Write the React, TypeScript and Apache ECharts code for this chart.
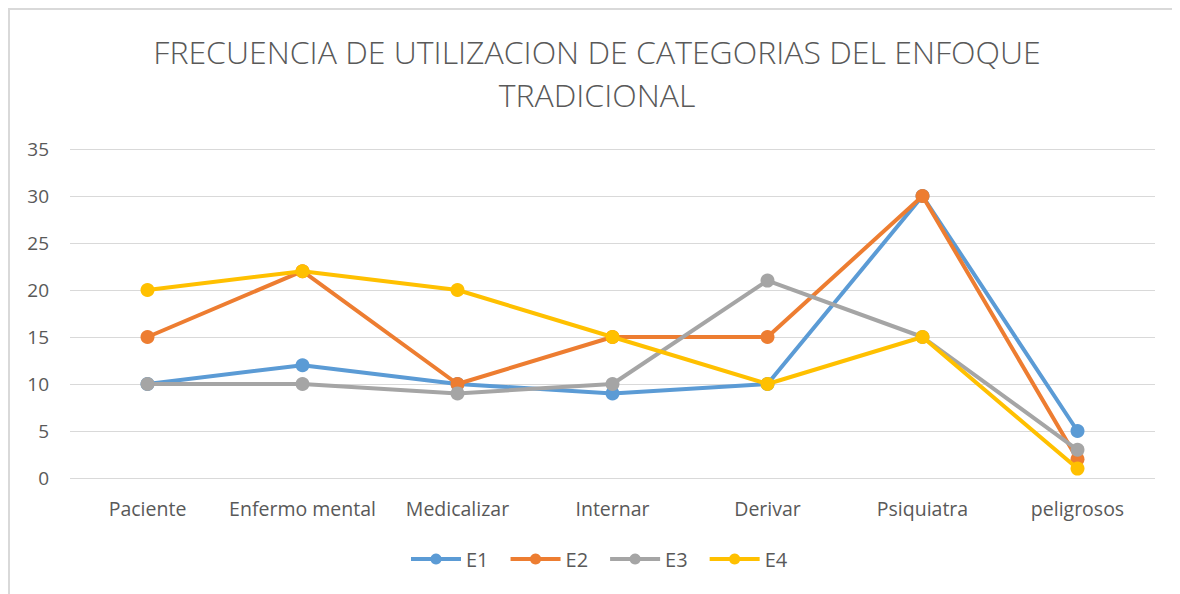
import React, { useEffect, useRef } from "react";
import * as echarts from "echarts";

const titleText = "FRECUENCIA DE UTILIZACION DE CATEGORIAS DEL ENFOQUE\nTRADICIONAL";
const categories = ["Paciente", "Enfermo mental", "Medicalizar", "Internar", "Derivar", "Psiquiatra", "peligrosos"];
const seriesNames = ["E1", "E2", "E3", "E4"];
const e1 = [10, 12, 10, 9, 10, 30, 5];
const e2 = [15, 22, 10, 15, 15, 30, 2];
const e3 = [10, 10, 9, 10, 21, 15, 3];
const e4 = [20, 22, 20, 15, 10, 15, 1];
const colors = ["#5b9bd5", "#ed7d31", "#a5a5a5", "#ffc000"];
const yTicks = { min: 0, max: 35, interval: 5 };

const FONT = "'Open Sans', 'Noto Sans', sans-serif";

export default function App() {
  const ref = useRef<HTMLDivElement>(null);
  useEffect(() => {
    if (!ref.current) return;
    const chart = echarts.init(ref.current, undefined, { renderer: "svg" });
    const data = [e1, e2, e3, e4];
    chart.setOption({
      animation: false,
      backgroundColor: "#ffffff",
      title: {
        text: titleText,
        left: 584,
        textAlign: "center",
        top: 17,
        textStyle: {
          fontFamily: FONT,
          fontSize: 32,
          fontWeight: 300,
          color: "#595959",
          lineHeight: 43,
        },
      },
      legend: {
        bottom: 20,
        left: 396,
        itemWidth: 50,
        itemHeight: 14,
        itemGap: 20,
        lineStyle: { width: 4 },
        textStyle: { fontFamily: FONT, fontSize: 20, color: "#595959" },
        data: seriesNames,
      },
      grid: { left: 62, right: 25, top: 141, bottom: 116, containLabel: false },
      xAxis: {
        type: "category",
        data: categories,
        boundaryGap: true,
        axisLine: { show: false },
        axisTick: { show: false },
        axisLabel: { fontFamily: FONT, fontSize: 19.5, color: "#595959", margin: 20, interval: 0 },
      },
      yAxis: {
        type: "value",
        min: yTicks.min,
        max: yTicks.max,
        interval: yTicks.interval,
        axisLine: { show: false },
        axisTick: { show: false },
        axisLabel: { fontFamily: FONT, fontSize: 19, color: "#595959", margin: 21 },
        splitLine: { lineStyle: { color: "#d9d9d9", width: 1 } },
      },
      graphic: [
        { type: "line", shape: { x1: 1, y1: 0, x2: 1, y2: 600 }, style: { stroke: "#d9d9d9", lineWidth: 2 } },
        { type: "line", shape: { x1: 0, y1: 1, x2: 1200, y2: 1 }, style: { stroke: "#d9d9d9", lineWidth: 2 } },
      ],
      series: seriesNames.map((name, i) => ({
        name,
        type: "line",
        data: data[i],
        color: colors[i],
        symbol: "circle",
        symbolSize: 14,
        lineStyle: { width: 4, color: colors[i] },
        itemStyle: { color: colors[i] },
        z: 2 + i,
      })),
    });
    return () => chart.dispose();
  }, []);
  return <div ref={ref} style={{ width: 1172, height: 586 }} />;
}
